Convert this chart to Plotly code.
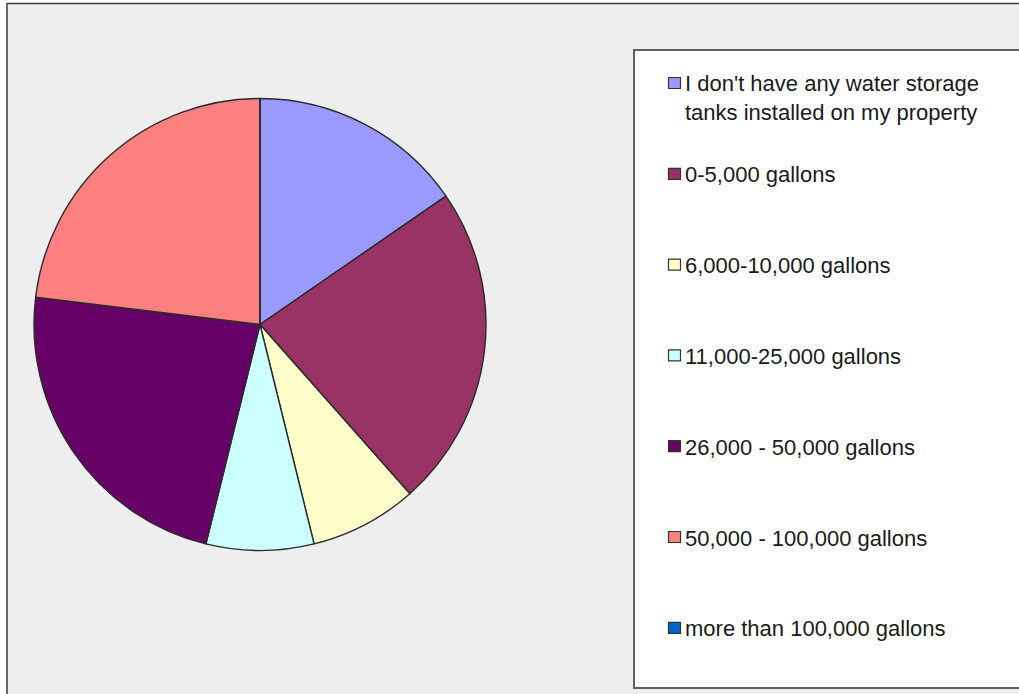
import plotly.graph_objects as go

W, H = 1019, 694

labels = [
    "I don't have any water storage<br>tanks installed on my property",
    "0-5,000 gallons",
    "6,000-10,000 gallons",
    "11,000-25,000 gallons",
    "26,000 - 50,000 gallons",
    "50,000 - 100,000 gallons",
    "more than 100,000 gallons",
]
values = [2, 3, 1, 1, 3, 3, 0]
colors = ["#9999FF", "#993366", "#FFFFCC", "#CCFFFF", "#660066", "#FF8080", "#0066CC"]


def px(x):
    return x / W


def py(y):
    return 1 - y / H


fig = go.Figure()
fig.add_trace(go.Pie(
    labels=[l.replace("<br>", " ") for l in labels],
    values=values,
    sort=False,
    direction="clockwise",
    rotation=0,
    marker=dict(colors=colors, line=dict(color="#2a2a2a", width=1.4)),
    textinfo="none",
    hoverinfo="label+value+percent",
    showlegend=False,
    domain=dict(x=[px(34), px(486)], y=[py(551), py(98)]),
))

shapes = [
    # outer chart frame
    dict(type="rect", xref="paper", yref="paper",
         x0=px(7), x1=px(1040), y0=py(3.5), y1=py(720),
         fillcolor="#EEEEEE", line=dict(color="#3a3a3a", width=1.5), layer="below"),
    # legend box
    dict(type="rect", xref="paper", yref="paper",
         x0=px(634), x1=px(1040), y0=py(50), y1=py(688),
         fillcolor="#FFFFFF", line=dict(color="#606060", width=2), layer="below"),
]

annotations = []
fs = 22
first_y = 83
step = 90.8
for i, (lab, col) in enumerate(zip(labels, colors)):
    cy = first_y + step * i
    shapes.append(dict(type="rect", xref="paper", yref="paper",
                       x0=px(668.5), x1=px(680.5), y0=py(cy - 5.5), y1=py(cy + 5.5),
                       fillcolor=col, line=dict(color="#333333", width=1.2)))
    nlines = lab.count("<br>") + 1
    block_center = cy + (nlines - 1) * 1.3 * fs / 2
    annotations.append(dict(
        xref="paper", yref="paper", x=px(683), y=py(block_center + 1),
        xanchor="left", yanchor="middle", align="left",
        text=lab, showarrow=False,
        font=dict(family="Liberation Sans, Arial, sans-serif", size=fs, color="#1a1a1a"),
    ))

fig.update_layout(
    width=W, height=H,
    margin=dict(l=0, r=0, t=0, b=0),
    paper_bgcolor="#FFFFFF",
    plot_bgcolor="#FFFFFF",
    shapes=shapes,
    annotations=annotations,
    showlegend=False,
)

fig.write_html("out.html")
